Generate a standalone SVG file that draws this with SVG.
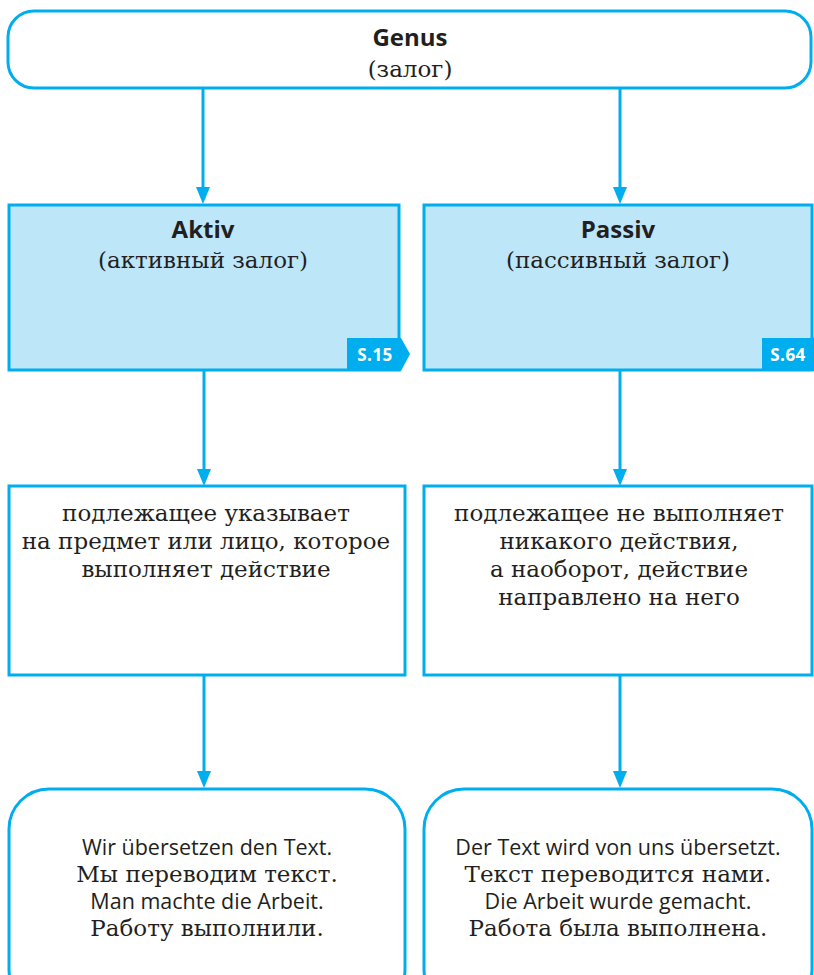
<svg xmlns="http://www.w3.org/2000/svg" width="814" height="975" viewBox="0 0 814 975">
  <style>
    .box { fill: #ffffff; stroke: #00aeef; stroke-width: 3; }
    .shade { fill: #bee6f9; stroke: #00aeef; stroke-width: 3; }
    .link { stroke: #00aeef; stroke-width: 3; fill: none; }
    .head { fill: #00aeef; }
    .tag { fill: #00aeef; }
    .tagtxt { font-family: "Open Sans", "Liberation Sans", sans-serif; font-weight: bold; font-size: 17px; fill: #ffffff; text-anchor: middle; letter-spacing: 0.5px; }
    .title { font-family: "Open Sans", "Liberation Sans", sans-serif; font-weight: bold; font-size: 24px; fill: #231f20; text-anchor: middle; }
    .ru { font-family: "DejaVu Serif", "Liberation Serif", serif; font-size: 23px; fill: #231f20; text-anchor: middle; }
    .de { font-family: "Open Sans", "Liberation Sans", sans-serif; font-size: 21.5px; fill: #231f20; text-anchor: middle; }
  </style>

  <!-- connectors -->
  <g id="connectors">
    <line class="link" x1="203" y1="88" x2="203" y2="190"/>
    <polygon class="head" points="196,187 210,187 203,204"/>
    <line class="link" x1="620" y1="88" x2="620" y2="190"/>
    <polygon class="head" points="613,187 627,187 620,204"/>

    <line class="link" x1="204" y1="370" x2="204" y2="472"/>
    <polygon class="head" points="197,469 211,469 204,486"/>
    <line class="link" x1="620" y1="370" x2="620" y2="472"/>
    <polygon class="head" points="613,469 627,469 620,486"/>

    <line class="link" x1="204" y1="675" x2="204" y2="774"/>
    <polygon class="head" points="197,771 211,771 204,788"/>
    <line class="link" x1="620" y1="675" x2="620" y2="774"/>
    <polygon class="head" points="613,771 627,771 620,788"/>
  </g>

  <!-- Genus -->
  <g id="genus">
    <rect class="box" x="8" y="11" width="803" height="77" rx="26"/>
    <text class="title" x="410" y="46">Genus</text>
    <text class="ru" x="410" y="77">(залог)</text>
  </g>

  <!-- Aktiv -->
  <g id="aktiv">
    <rect class="shade" x="9" y="205" width="390" height="165"/>
    <text class="title" x="203" y="238">Aktiv</text>
    <text class="ru" x="203" y="268">(активный залог)</text>
    <polygon class="tag" points="347,338 401,338 410,354 401,371 347,371"/>
    <text class="tagtxt" x="375" y="361">S.15</text>
  </g>

  <!-- Passiv -->
  <g id="passiv">
    <rect class="shade" x="424" y="205" width="388" height="165"/>
    <text class="title" x="618" y="238">Passiv</text>
    <text class="ru" x="618" y="268">(пассивный залог)</text>
    <rect class="tag" x="762" y="338" width="52" height="33"/>
    <text class="tagtxt" x="788" y="361">S.64</text>
  </g>

  <!-- Aktiv description -->
  <g id="aktiv-desc">
    <rect class="box" x="9" y="486" width="396" height="189"/>
    <text class="ru" x="206" y="521">подлежащее указывает</text>
    <text class="ru" x="206" y="549">на предмет или лицо, которое</text>
    <text class="ru" x="206" y="577">выполняет действие</text>
  </g>

  <!-- Passiv description -->
  <g id="passiv-desc">
    <rect class="box" x="424" y="486" width="388" height="189"/>
    <text class="ru" x="619" y="521">подлежащее не выполняет</text>
    <text class="ru" x="619" y="549">никакого действия,</text>
    <text class="ru" x="619" y="577">а наоборот, действие</text>
    <text class="ru" x="619" y="605">направлено на него</text>
  </g>

  <!-- Aktiv examples -->
  <g id="aktiv-examples">
    <rect class="box" x="9" y="789" width="396" height="220" rx="40"/>
    <text class="de" x="207" y="855">Wir übersetzen den Text.</text>
    <text class="ru" x="207" y="882">Мы переводим текст.</text>
    <text class="de" x="207" y="909">Man machte die Arbeit.</text>
    <text class="ru" x="207" y="936">Работу выполнили.</text>
  </g>

  <!-- Passiv examples -->
  <g id="passiv-examples">
    <rect class="box" x="424" y="789" width="388" height="220" rx="40"/>
    <text class="de" x="618" y="855">Der Text wird von uns übersetzt.</text>
    <text class="ru" x="618" y="882">Текст переводится нами.</text>
    <text class="de" x="618" y="909">Die Arbeit wurde gemacht.</text>
    <text class="ru" x="618" y="936">Работа была выполнена.</text>
  </g>
</svg>
